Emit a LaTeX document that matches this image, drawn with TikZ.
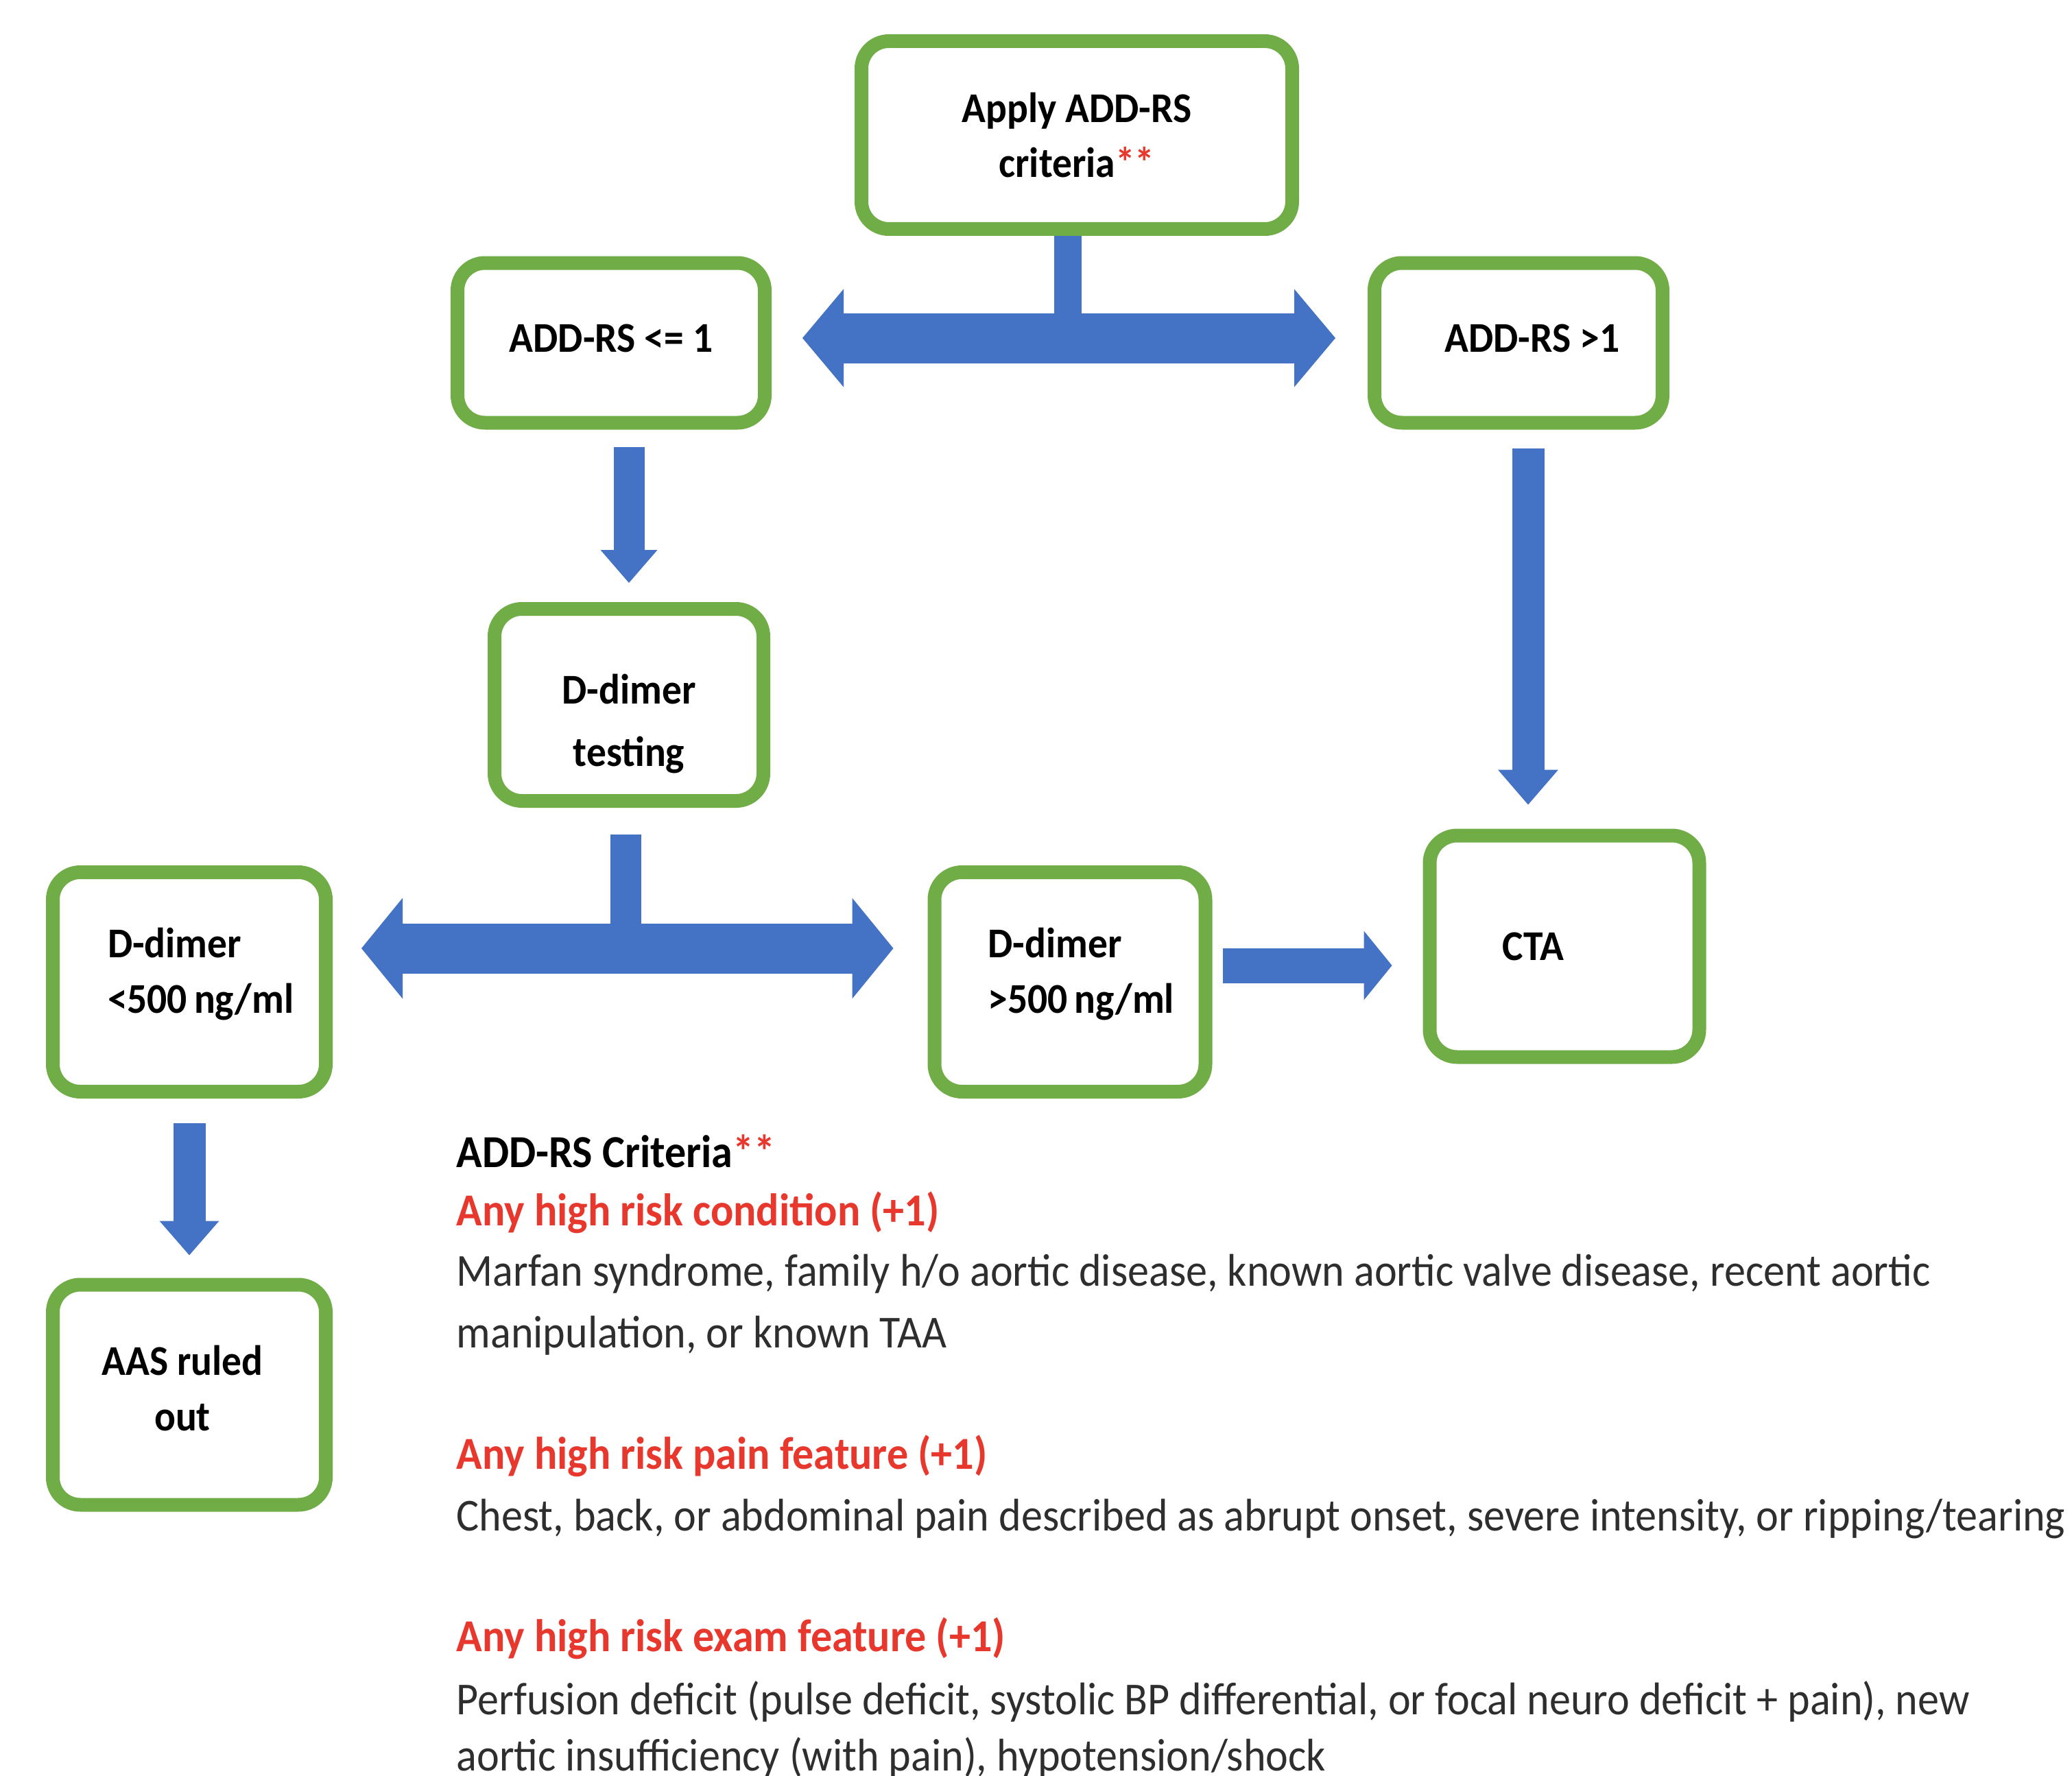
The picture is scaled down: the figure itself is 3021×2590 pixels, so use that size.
\documentclass[tikz,border=0pt]{standalone}
\usepackage{fontspec}
\setmainfont[FakeStretch=0.93]{Carlito}
\usetikzlibrary{arrows.meta,calc}
\definecolor{boxgreen}{HTML}{70AD47}
\definecolor{arrowblue}{HTML}{4472C4}
\definecolor{critred}{HTML}{E8382E}
\definecolor{bodygray}{HTML}{2E2E2E}
\newcommand\bxfont{\bfseries\fontsize{17.6}{23}\selectfont}
\newcommand\crfont{\fontsize{19}{25}\selectfont}
\begin{document}
\begin{tikzpicture}[x=0.1mm,y=-0.1mm,
  box/.style={draw=boxgreen, line width=2mm, rounded corners=4mm, fill=white,
              font=\bxfont, align=center, inner sep=0pt},
  fat/.style={draw=arrowblue, line cap=butt},
  crit/.style={anchor=base west, inner sep=0pt, font=\crfont, text=bodygray},
  head/.style={crit, font=\crfont\bfseries, text=critred}]
\useasboundingbox[fill=white] (0,0) rectangle (3021,2590);

% boxes
\node[box, minimum width=62.8mm, minimum height=27.4mm] (b1) at (1570,197)
  {Apply ADD-RS\\criteria\textcolor{critred}{**}};
\node[box, minimum width=44.8mm, minimum height=23.3mm, text height=4mm, text depth=1.4mm] (b2) at (891,500) {ADD-RS <= 1};
\node[box, minimum width=42mm, minimum height=23.3mm, text height=4mm, text depth=1.4mm] (b3) at (2214,500) {\hspace*{4mm}ADD-RS >1};
\node[box, minimum width=39.2mm, minimum height=28mm, font=\bfseries\fontsize{17.6}{26}\selectfont] (b4) at (917,1028)
  {\rule{0pt}{9.8mm}D-dimer\\testing};
\node[box, align=left, text width=23.8mm, inner xsep=8mm, minimum height=32mm] (b5) at (276,1432)
  {\mbox{D-dimer}\\\mbox{<500\hspace{0.16em}ng/ml}\rule[-3.4mm]{0pt}{3.4mm}};
\node[box, align=left, text width=23.9mm, inner xsep=7.8mm, minimum height=32mm] (b6) at (1560,1432)
  {\mbox{D-dimer}\\\mbox{>500\hspace{0.16em}ng/ml}\rule[-3.4mm]{0pt}{3.4mm}};
\node[box, align=left, text width=18.1mm, inner xsep=10.6mm, minimum height=32.3mm] (b7) at (2281,1380)
  {CTA};
\node[box, minimum width=39.8mm, minimum height=32.1mm] (b8) at (276,2034)
  {AAS ruled\hspace*{2mm}\\out\hspace*{2mm}\rule[-2mm]{0pt}{2mm}};

% connectors
\coordinate (tj) at (1557,493);
\draw[fat, line width=4mm] (b1.south -| tj) -- (tj);
\draw[fat, line width=7.3mm,
  {Triangle[length=6mm,width=14.3mm,line width=0pt]}-{Triangle[length=6mm,width=14.3mm,line width=0pt]},
  shorten <=4.5mm, shorten >=4.7mm] (b2.east |- tj) -- (b3.west |- tj);

\draw[fat, line width=4.5mm, -{Triangle[length=4.8mm,width=8.3mm,line width=0pt]},
  shorten <=2.6mm, shorten >=2.8mm] (b4.north |- b2.south) -- (b4.north);

\coordinate (c3) at ($(b3.south)+(14,0)$);
\draw[fat, line width=4.7mm, -{Triangle[length=5.1mm,width=8.8mm,line width=0pt]},
  shorten <=2.8mm, shorten >=3.5mm] (c3) -- (c3 |- b7.north);

\coordinate (mj) at (912,1383);
\draw[fat, line width=4.5mm, shorten <=3.9mm] (b4.south -| mj) -- (mj);
\draw[fat, line width=7.3mm,
  {Triangle[length=6mm,width=14.7mm,line width=0pt]}-{Triangle[length=6mm,width=14.7mm,line width=0pt]},
  shorten <=4.2mm, shorten >=5mm] (b5.east |- mj) -- (b6.west |- mj);

\coordinate (ey) at (1900,1408);
\draw[fat, line width=5.1mm, -{Triangle[length=4.1mm,width=10.1mm,line width=0pt]},
  shorten <=1.5mm, shorten >=4.5mm] (b6.east |- ey) -- (b7.west |- ey);

\draw[fat, line width=4.7mm, -{Triangle[length=5mm,width=8.7mm,line width=0pt]},
  shorten <=3.6mm, shorten >=3.3mm] (b5.south) -- (b8.north);

% criteria text
\node[crit, font=\crfont\bfseries, text=black] (t0) at (665,1702) {ADD-RS Criteria\textcolor{critred}{**}};
\node[head] (t1) at (665,1787) {Any high risk condition (+1)};
\node[crit] (t2) at (665,1875) {Marfan syndrome, family h/o aortic disease, known aortic valve disease, recent aortic};
\node[crit] (t3) at (665,1965) {manipulation, or known TAA};
\node[head] (t4) at (665,2142) {Any high risk pain feature (+1)};
\node[crit] (t5) at (665,2232) {Chest, back, or abdominal pain described as abrupt onset, severe intensity, or ripping/tearing};
\node[head] (t6) at (665,2408) {Any high risk exam feature (+1)};
\node[crit] (t7) at (665,2500) {Perfusion deficit (pulse deficit, systolic BP differential, or focal neuro deficit + pain), new};
\node[crit] (t8) at (665,2582) {aortic insufficiency (with pain), hypotension/shock};
\end{tikzpicture}
\end{document}
